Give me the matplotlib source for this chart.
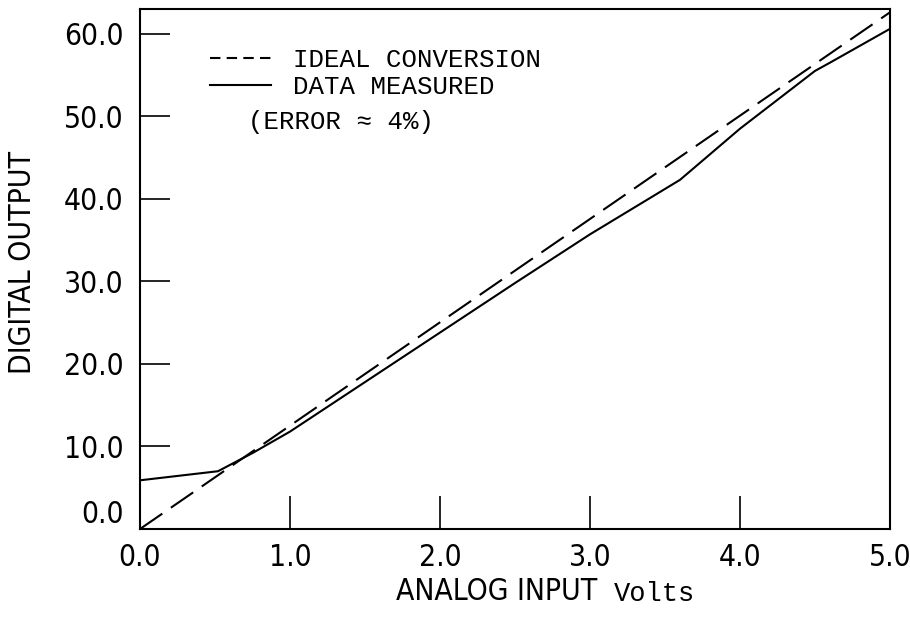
import matplotlib
matplotlib.use("Agg")
import matplotlib.pyplot as plt
from matplotlib.lines import Line2D

# data
ideal_x = [0.0, 5.0]
ideal_y = [0.0, 62.6]
meas_x = [0.0, 0.52, 0.75, 1.0, 1.5, 2.0, 2.5, 3.0, 3.5, 3.6, 4.0, 4.5, 4.6, 5.0]
meas_y = [5.9, 7.0, 9.2, 11.8, 17.8, 23.8, 29.8, 35.7, 41.2, 42.3, 48.5, 55.5, 56.5, 60.6]
xticks = [0, 1, 2, 3, 4, 5]
yticks = [0, 10, 20, 30, 40, 50, 60]

sans = dict(family="DejaVu Sans", fontstretch="condensed", fontsize=21.5)
mono = ["Liberation Mono", "DejaVu Sans Mono"]

fig = plt.figure(figsize=(9.1, 6.21), dpi=100)
ax = fig.add_subplot(111)
fig.subplots_adjust(left=140/910, right=890/910, bottom=1-529/621, top=1-9/621)

ax.plot(ideal_x, ideal_y, color="black", lw=1.5, linestyle=(0, (13, 5)))
ax.plot(meas_x, meas_y, color="black", lw=1.5)

ax.set_xlim(0, 5)
ax.set_ylim(0, 63)
ax.set_xticks(xticks)
ax.set_yticks(yticks)
ax.set_xticklabels([f"{v:.1f}" for v in xticks], **sans)
ax.set_yticklabels([f"{v:.1f}" for v in yticks], **sans)
ax.get_yticklabels()[0].set_va("bottom")
ax.tick_params(axis="x", direction="in", length=23.5, width=1.2, pad=10, top=False)
ax.tick_params(axis="y", direction="in", length=21.5, width=1.2, pad=12, right=False)
for s in ax.spines.values():
    s.set_linewidth(1.5)

fig.text(23/910, 1-262/621, "DIGITAL OUTPUT", rotation=90, ha="center", va="center", **sans)
fig.text(597/910, 1-592/621, "ANALOG INPUT", ha="right", va="center", **sans)
fig.text(614/910, 1-594/621, "Volts", family=mono, fontsize=19.5, ha="left", va="center")

handles = [Line2D([], [], color="black", lw=1.5, linestyle=(0, (5, 3))),
           Line2D([], [], color="black", lw=1.5)]
ax.legend(handles, ["IDEAL CONVERSION", "DATA MEASURED"], loc="upper left",
          bbox_to_anchor=(0.093, 0.925), frameon=False, borderpad=0, borderaxespad=0,
          handlelength=2.4, handletextpad=0.85, labelspacing=0.12,
          prop={"family": mono, "size": 18.5})
ax.text(0.144, 0.783, "(ERROR \u2248 4%)", transform=ax.transAxes, family=mono,
        fontsize=18.5, ha="left", va="center")

fig.savefig("out.png", dpi=100)
